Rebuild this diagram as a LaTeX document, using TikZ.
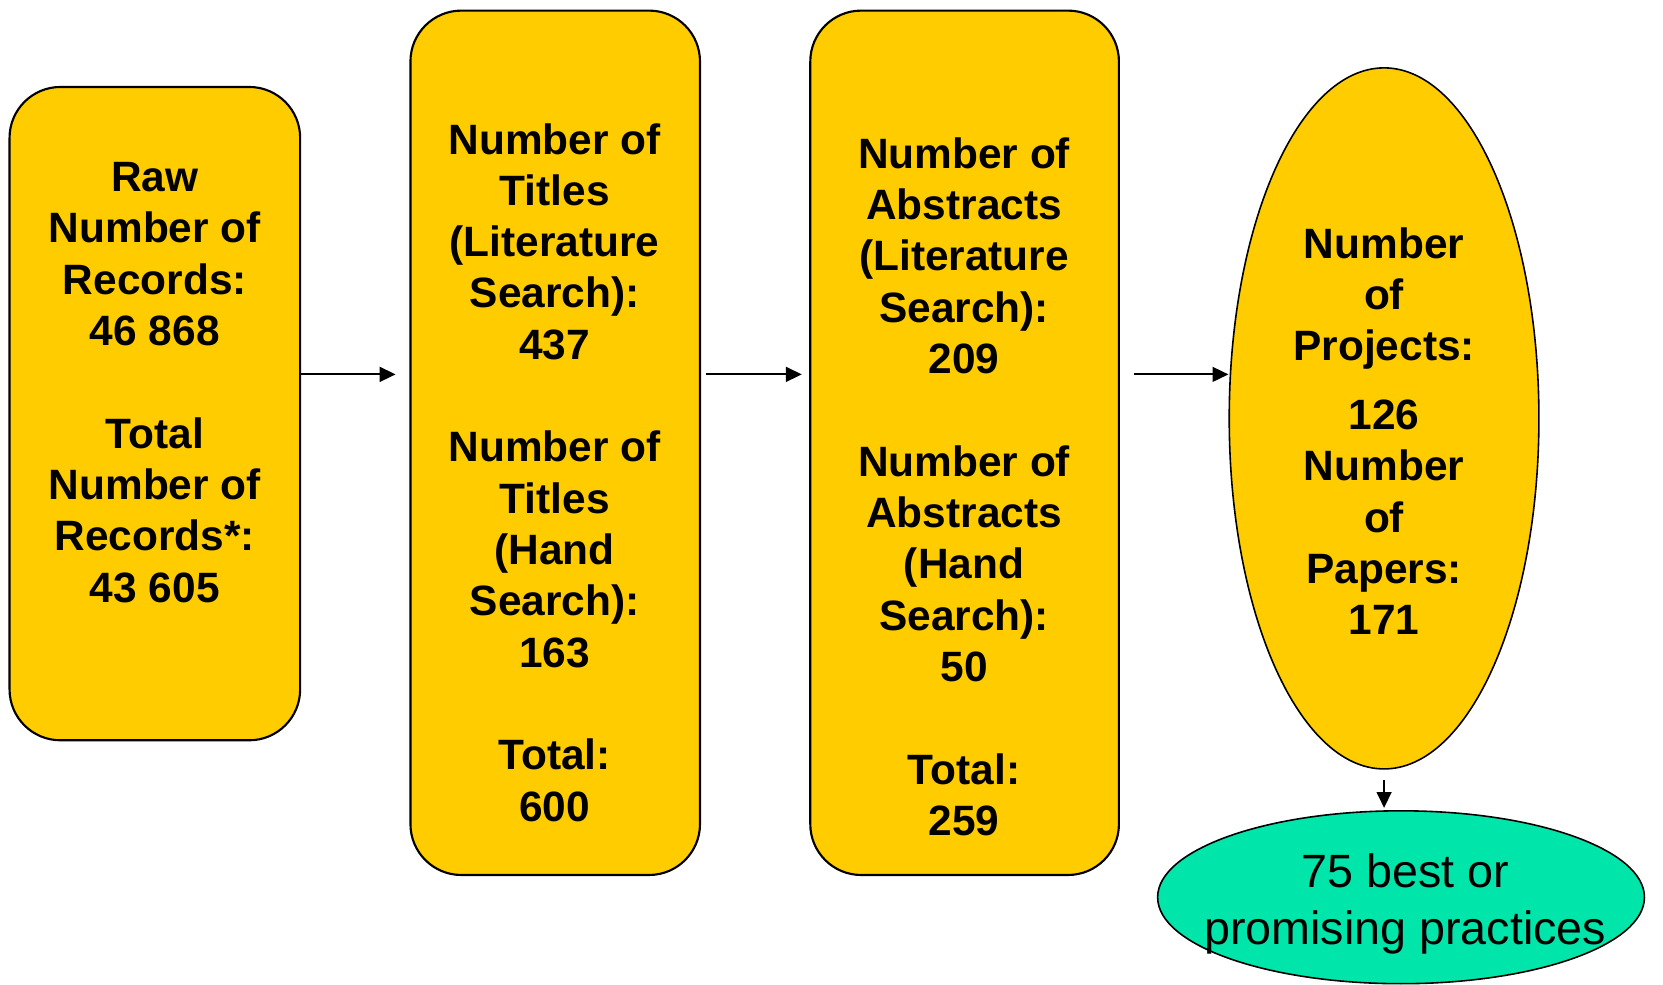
\documentclass[tikz,border=0pt]{standalone}
\usepackage{fontspec}
\setmainfont{Liberation Sans}
\usetikzlibrary{shapes.geometric,arrows.meta}
\definecolor{boxyellow}{RGB}{255,204,0}
\definecolor{boxgreen}{RGB}{0,229,170}
\begin{document}
\begin{tikzpicture}[x=1pt,y=1pt,
  ybox/.style={draw,line width=2pt,fill=boxyellow,rounded corners=48pt,inner sep=0pt},
  yell/.style={draw,line width=1.5pt,fill=boxyellow,ellipse,inner sep=0pt},
  gell/.style={draw,line width=1.5pt,fill=boxgreen,ellipse,inner sep=0pt},
  txt/.style={font=\bfseries\fontsize{40}{48.4}\selectfont,align=center,inner sep=0pt},
  gtxt/.style={font=\fontsize{44}{54}\selectfont,align=center,inner sep=0pt},
  conn/.style={line width=1.8pt,-{Triangle[length=15pt,width=14pt]}}]
\useasboundingbox (0,0) rectangle (1568,-928);
% shapes
\node[ybox,minimum width=274pt,minimum height=616pt] (b1) at (146,-390) {};
\node[ybox,minimum width=273pt,minimum height=815pt] (b2) at (523.5,-417.5) {};
\node[ybox,minimum width=291pt,minimum height=815pt] (b3) at (909.5,-417.5) {};
\node[yell,minimum width=292pt,minimum height=661pt] (ell) at (1305,-394.5) {};
\node[gell,minimum width=459pt,minimum height=163pt] (g) at (1321,-846) {};
% texts
\node[txt] (t1) at (146,-360.5) {Raw\\Number of\\Records:\\46 868\\[48.4pt]Total\\Number of\\Records*:\\43 605};
\node[txt] (t2) at (523,-445.5) {Number of\\Titles\\(Literature\\Search):\\437\\[48.4pt]Number of\\Titles\\(Hand\\Search):\\163\\[48.4pt]Total:\\600};
\node[txt] (t3) at (909,-459) {Number of\\Abstracts\\(Literature\\Search):\\209\\[48.4pt]Number of\\Abstracts\\(Hand\\Search):\\50\\[48.4pt]Total:\\259};
\node[txt] (t4) at (1305,-406.5) {Number\\of\\Projects:\\[16.6pt]126\\Number\\of\\Papers:\\171};
\node[gtxt] (t5) at (1325,-852.5) {75 best or\\promising practices};
% connectors
\coordinate (ay) at (0,-353);
\draw[conn,shorten >=13pt] (b1.east |- ay) -- (b2.west |- ay);
\draw[conn,shorten <=5pt,shorten >=7pt] (b2.east |- ay) -- (b3.west |- ay);
\draw[conn,shorten <=13pt] (b3.east |- ay) -- (ell.west |- ay);
\draw[conn,shorten <=10pt,shorten >=2pt] (ell.south) -- (ell.south |- g.north);
\end{tikzpicture}
\end{document}
